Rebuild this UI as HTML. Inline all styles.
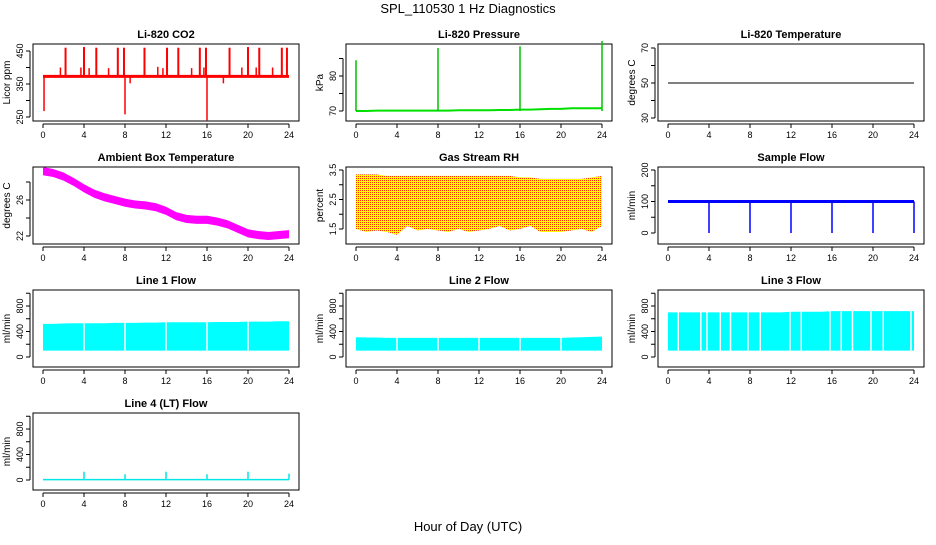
<!DOCTYPE html>
<html><head><meta charset="utf-8"><style>
body{margin:0;background:#fff}
svg text{font-family:"Liberation Sans",sans-serif}
</style></head><body>
<svg id="c" width="936" height="540" xmlns="http://www.w3.org/2000/svg">
<defs>
<pattern id="rh" width="2" height="2" patternUnits="userSpaceOnUse"><rect width="2" height="2" fill="#ffff00"/><rect x="0" y="0" width="1" height="1" fill="#ff3000"/></pattern>
</defs>
<text x="468" y="13" font-size="13" text-anchor="middle">SPL_110530  1 Hz Diagnostics</text>
<text x="468" y="531" font-size="13" text-anchor="middle">Hour of Day (UTC)</text>
</svg>
<script>
const hours=[0,1,2,3,4,5,6,7,8,9,10,11,12,13,14,15,16,17,18,19,20,21,22,23,24];
const xTicks=[0,4,8,12,16,20,24];
const co2Base=373;
const co2SpikeHours=[2.2,4,5.2,7.3,7.9,9.9,12.1,13.2,15.3,15.9,18.2,20,21.1,23.3,23.8];
const co2SpikeVals=[460,462,460,460,460,460,460,460,460,460,460,462,460,460,460];
const co2SmallHours=[1.7,3.7,4.5,6.4,8.5,11.2,11.7,14.5,15.7,17.6,19.4,20.8,22.4];
const co2SmallVals=[400,400,398,398,352,402,398,398,400,352,400,400,400];
const co2DipHours=[0.1,8.0,16.0];
const co2DipVals=[268,258,240];
const presBase=[70,70,70.1,70.1,70.1,70.1,70.1,70.1,70.1,70.1,70.2,70.2,70.2,70.2,70.3,70.3,70.4,70.4,70.5,70.6,70.6,70.8,70.8,70.8,70.8];
const presSpikeHours=[0,8,16,24];
const presSpikeVals=[84.5,88,88.5,90];
const tempVal=50;
const ambTemp=[29.2,29.0,28.6,28.0,27.3,26.7,26.3,26.0,25.7,25.5,25.4,25.2,24.8,24.2,23.9,23.8,23.8,23.6,23.3,22.8,22.3,22.1,22.0,22.1,22.2];
const rhTop=[3.35,3.35,3.35,3.3,3.3,3.3,3.3,3.3,3.3,3.3,3.3,3.3,3.3,3.3,3.3,3.3,3.25,3.25,3.2,3.2,3.2,3.2,3.2,3.25,3.3];
const rhBot=[1.5,1.4,1.45,1.4,1.3,1.6,1.45,1.5,1.45,1.4,1.5,1.4,1.45,1.5,1.6,1.45,1.5,1.6,1.4,1.4,1.4,1.45,1.5,1.4,1.6];
const flowBase=100;
const flowDipHours=[4,8,12,16,20,24];
const line1Lo=100, line1Hi=[520,520,525,530,530,530,530,535,535,535,540,540,545,545,545,545,545,550,550,550,555,555,555,560,560];
const line2Lo=100, line2Hi=[310,305,305,300,300,300,300,300,300,300,300,300,300,300,300,300,300,300,300,300,300,305,310,315,320];
const line3Lo=100, line3Hi=[700,700,700,700,700,700,700,700,700,700,700,700,710,710,710,710,720,720,720,720,720,720,720,720,720];
const line1Gaps=[4,8,12,16,20];
const line2Gaps=[4,8,12,16,20];
const line3Gaps=[1,3.2,3.8,5.1,6.1,7.8,9,11.9,13,15.8,16.9,18,19.8,21,23.7];
const line4SpikeHours=[4,8,12,16,20,24];
const line4SpikeVals=[130,90,130,90,130,100];

const NS="http://www.w3.org/2000/svg", svg=document.getElementById('c');
function mk(t,a,p){const e=document.createElementNS(NS,t);for(const k in a)e.setAttribute(k,a[k]);(p||svg).appendChild(e);return e;}
const colX=[43,356,668], rowTop=[44,167,290,413], rowH=77;
function panel(c,r,title,ylab,v0,y0,v1,y1,yticks,ylabels,name){
  const g=mk('g',{});
  
  
  const x0=colX[c], top=rowTop[r], bot=top+rowH;
  const X=h=>x0+h*10.25;
  const Y=v=>y0+(v-v0)*(y1-y0)/(v1-v0);
  const box=mk('rect',{x:x0-10,y:top,width:266,height:rowH,fill:'none',stroke:'#000','stroke-width':1},g);
  
  
  const t=mk('text',{x:x0+123,y:top-6,'font-size':11,'font-weight':'bold','text-anchor':'middle'},g);t.textContent=title;
  
  
  const yl=mk('text',{transform:`translate(${x0-33},${top+rowH/2}) rotate(-90)`,'font-size':10,'text-anchor':'middle'},g);yl.textContent=ylab;
  
  
  const xa=mk('g',{},g);
  
  
  mk('line',{x1:X(0),x2:X(24),y1:bot+3,y2:bot+3,stroke:'#000'},xa);
  xTicks.forEach(h=>{mk('line',{x1:X(h),x2:X(h),y1:bot+3,y2:bot+7,stroke:'#000'},xa);
    const tt=mk('text',{x:X(h),y:bot+17,'font-size':9,'text-anchor':'middle'},xa);tt.textContent=h;});
  const ya=mk('g',{},g);
  
  
  const xl=x0-13;
  mk('line',{x1:xl,x2:xl,y1:Y(yticks[0]),y2:Y(yticks[yticks.length-1]),stroke:'#000'},ya);
  yticks.forEach(v=>mk('line',{x1:xl-4,x2:xl,y1:Y(v),y2:Y(v),stroke:'#000'},ya));
  ylabels.forEach(v=>{const tt=mk('text',{transform:`translate(${xl-7},${Y(v)}) rotate(-90)`,'font-size':9,'text-anchor':'middle'},ya);tt.textContent=v;});
  const d=mk('g',{},g);
  
  
  return {X,Y,d};
}
function band(p,hi,lo,fill,gaps){
  let pts=hours.map((h,i)=>p.X(h)+','+p.Y(hi[i]));
  hours.slice().reverse().forEach((h,j)=>{const i=hours.length-1-j;pts.push(p.X(h)+','+p.Y(Array.isArray(lo)?lo[i]:lo));});
  mk('polygon',{points:pts.join(' '),fill:fill},p.d);
  (gaps||[]).forEach(h=>mk('line',{x1:p.X(h),x2:p.X(h),y1:p.Y(Math.max(...hi))-2,y2:p.Y(Array.isArray(lo)?Math.min(...lo):lo)+1,stroke:'#fff','stroke-width':1.5},p.d));
}
function line(p,vals,col,w){mk('polyline',{points:hours.map((h,i)=>p.X(h)+','+p.Y(vals[i])).join(' '),fill:'none',stroke:col,'stroke-width':w},p.d);}
function spikes(p,hs,vs,base,col,w){hs.forEach((h,i)=>mk('line',{x1:p.X(h),x2:p.X(h),y1:p.Y(base),y2:p.Y(vs[i]),stroke:col,'stroke-width':w},p.d));}

let p=panel(0,0,'Li-820 CO2','Licor ppm',250,117,450,51,[250,300,350,400,450],[250,350,450],'co2');
line(p,hours.map(()=>co2Base),'#ff0000',3);
spikes(p,co2SpikeHours,co2SpikeVals,co2Base,'#ff0000',2);
spikes(p,co2SmallHours,co2SmallVals,co2Base,'#ff0000',1.5);
spikes(p,co2DipHours,co2DipVals,co2Base,'#ff0000',1.5);
p=panel(1,0,'Li-820 Pressure','kPa',70,111,80,76,[70,75,80,85],[70,80],'pressure');
line(p,presBase,'#00e000',2);
spikes(p,presSpikeHours,presSpikeVals,70,'#00c000',1.5);
p=panel(2,0,'Li-820 Temperature','degrees C',30,118,70,48,[30,40,50,60,70],[30,50,70],'li820-temp');
line(p,hours.map(()=>tempVal),'#000',1);
p=panel(0,1,'Ambient Box Temperature','degrees C',22,236,26,200,[22,24,26,28],[22,26],'ambient-temp');
band(p,ambTemp.map(v=>v+0.45),ambTemp.map(v=>v-0.45),'#ff00ff');
p=panel(1,1,'Gas Stream RH','percent',1.5,229,3.5,170,[1.5,2,2.5,3,3.5],[1.5,2.5,3.5],'gas-rh');
band(p,rhTop,rhBot,'url(#rh)');
p=panel(2,1,'Sample Flow','ml/min',0,233,200,170,[0,50,100,150,200],[0,100,200],'sample-flow');
line(p,hours.map(()=>flowBase),'#0000ff',3);
spikes(p,flowDipHours,flowDipHours.map(()=>0),flowBase,'#0000ff',1.5);
const fT=[0,200,400,600,800,1000], fL=[0,400,800];
p=panel(0,2,'Line 1 Flow','ml/min',0,357,800,306,fT,fL,'line1-flow');
band(p,line1Hi,line1Lo,'#00ffff',line1Gaps);
p=panel(1,2,'Line 2 Flow','ml/min',0,357,800,306,fT,fL,'line2-flow');
band(p,line2Hi,line2Lo,'#00ffff',line2Gaps);
p=panel(2,2,'Line 3 Flow','ml/min',0,357,800,306,fT,fL,'line3-flow');
band(p,line3Hi,line3Lo,'#00ffff',line3Gaps);
p=panel(0,3,'Line 4 (LT) Flow','ml/min',0,480,800,429,fT,fL,'line4-flow');
line(p,hours.map(()=>5),'#00e5e5',1.5);
spikes(p,line4SpikeHours,line4SpikeVals,5,'#00e5e5',1.5);
</script>
</body></html>
